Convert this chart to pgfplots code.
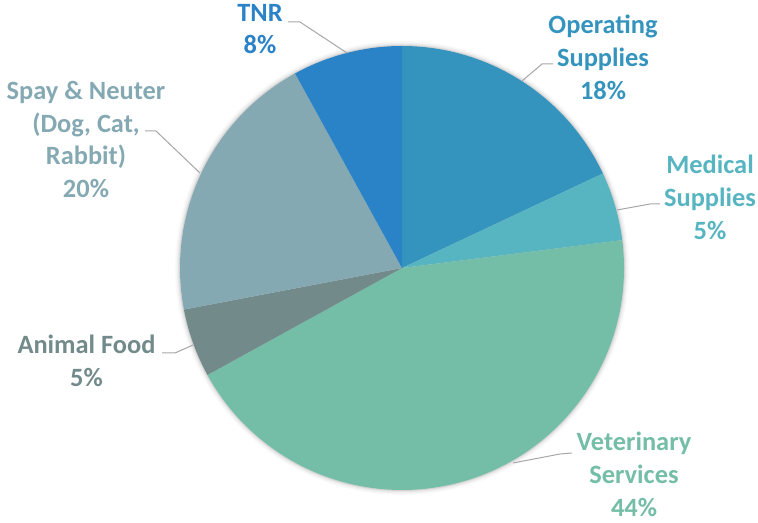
\documentclass[border=0pt]{standalone}
\usepackage{pgfplots}
\pgfplotsset{compat=1.18}
\usepackage{fontspec}
\setmainfont{Carlito}
\definecolor{cOp}{HTML}{3594BE}
\definecolor{cMed}{HTML}{57B5C1}
\definecolor{cVet}{HTML}{74BDA6}
\definecolor{cFood}{HTML}{738A8B}
\definecolor{cSpay}{HTML}{85A9B3}
\definecolor{cTNR}{HTML}{2A82C7}
\definecolor{cLead}{HTML}{A6A6A6}
\tikzset{lbl/.style={align=center, inner sep=0pt, font=\fontsize{26.5}{33}\selectfont\bfseries}}
\begin{document}
\begin{tikzpicture}
\begin{axis}[hide axis, scale only axis, width=758bp, height=523bp,
  xmin=0, xmax=758, ymin=0, ymax=523, clip=false]
\path (axis cs:0,0) rectangle (axis cs:758,523);
% soft shadow
\fill[black, opacity=0.025] (axis cs:402,255) circle[radius=227bp];
\fill[black, opacity=0.035] (axis cs:402,255) circle[radius=225.5bp];
\fill[black, opacity=0.05] (axis cs:402,255) circle[radius=224bp];
\fill[black, opacity=0.07] (axis cs:402,255) circle[radius=223bp];
% slices: value (percent) / colour, clockwise from 12 o'clock
\xdef\ang{90}
\foreach \v/\c in {18/cOp,5/cMed,44/cVet,5/cFood,20/cSpay,8/cTNR} {
  \pgfmathsetmacro\angb{\ang-3.6*\v}
  \edef\tmp{\noexpand\fill[\c] (axis cs:402,255) -- ++(\ang:222bp) arc[start angle=\ang, end angle=\angb, radius=222bp] -- cycle;}
  \tmp
  \xdef\ang{\angb}
}
% leader lines
\addplot[cLead, line width=1pt, no markers] coordinates {(288,501) (300,501) (347,470)};
\addplot[cLead, line width=1pt, no markers] coordinates {(553,459) (542,459) (522,442)};
\addplot[cLead, line width=1pt, no markers] coordinates {(660,319) (650,319) (617,313)};
\addplot[cLead, line width=1pt, no markers] coordinates {(145,392) (156,392) (200,350)};
\addplot[cLead, line width=1pt, no markers] coordinates {(162,170) (175,170) (193,178)};
\addplot[cLead, line width=1pt, no markers] coordinates {(572,70) (560,69) (513,60)};
% labels
\node[lbl, text=cTNR] at (axis cs:260,494) {TNR\\8\%};
\node[lbl, text=cOp] at (axis cs:603,465.5) {Operating\\Supplies\\18\%};
\node[lbl, text=cMed] at (axis cs:710,325.5) {Medical\\Supplies\\5\%};
\node[lbl, text=cVet] at (axis cs:634,49) {Veterinary\\Services\\44\%};
\node[lbl, text=cFood] at (axis cs:86.5,162.5) {Animal Food\\5\%};
\node[lbl, text=cSpay] at (axis cs:86,383.5) {Spay \& Neuter\\(Dog, Cat,\\Rabbit)\\20\%};
\end{axis}
\end{tikzpicture}
\end{document}
